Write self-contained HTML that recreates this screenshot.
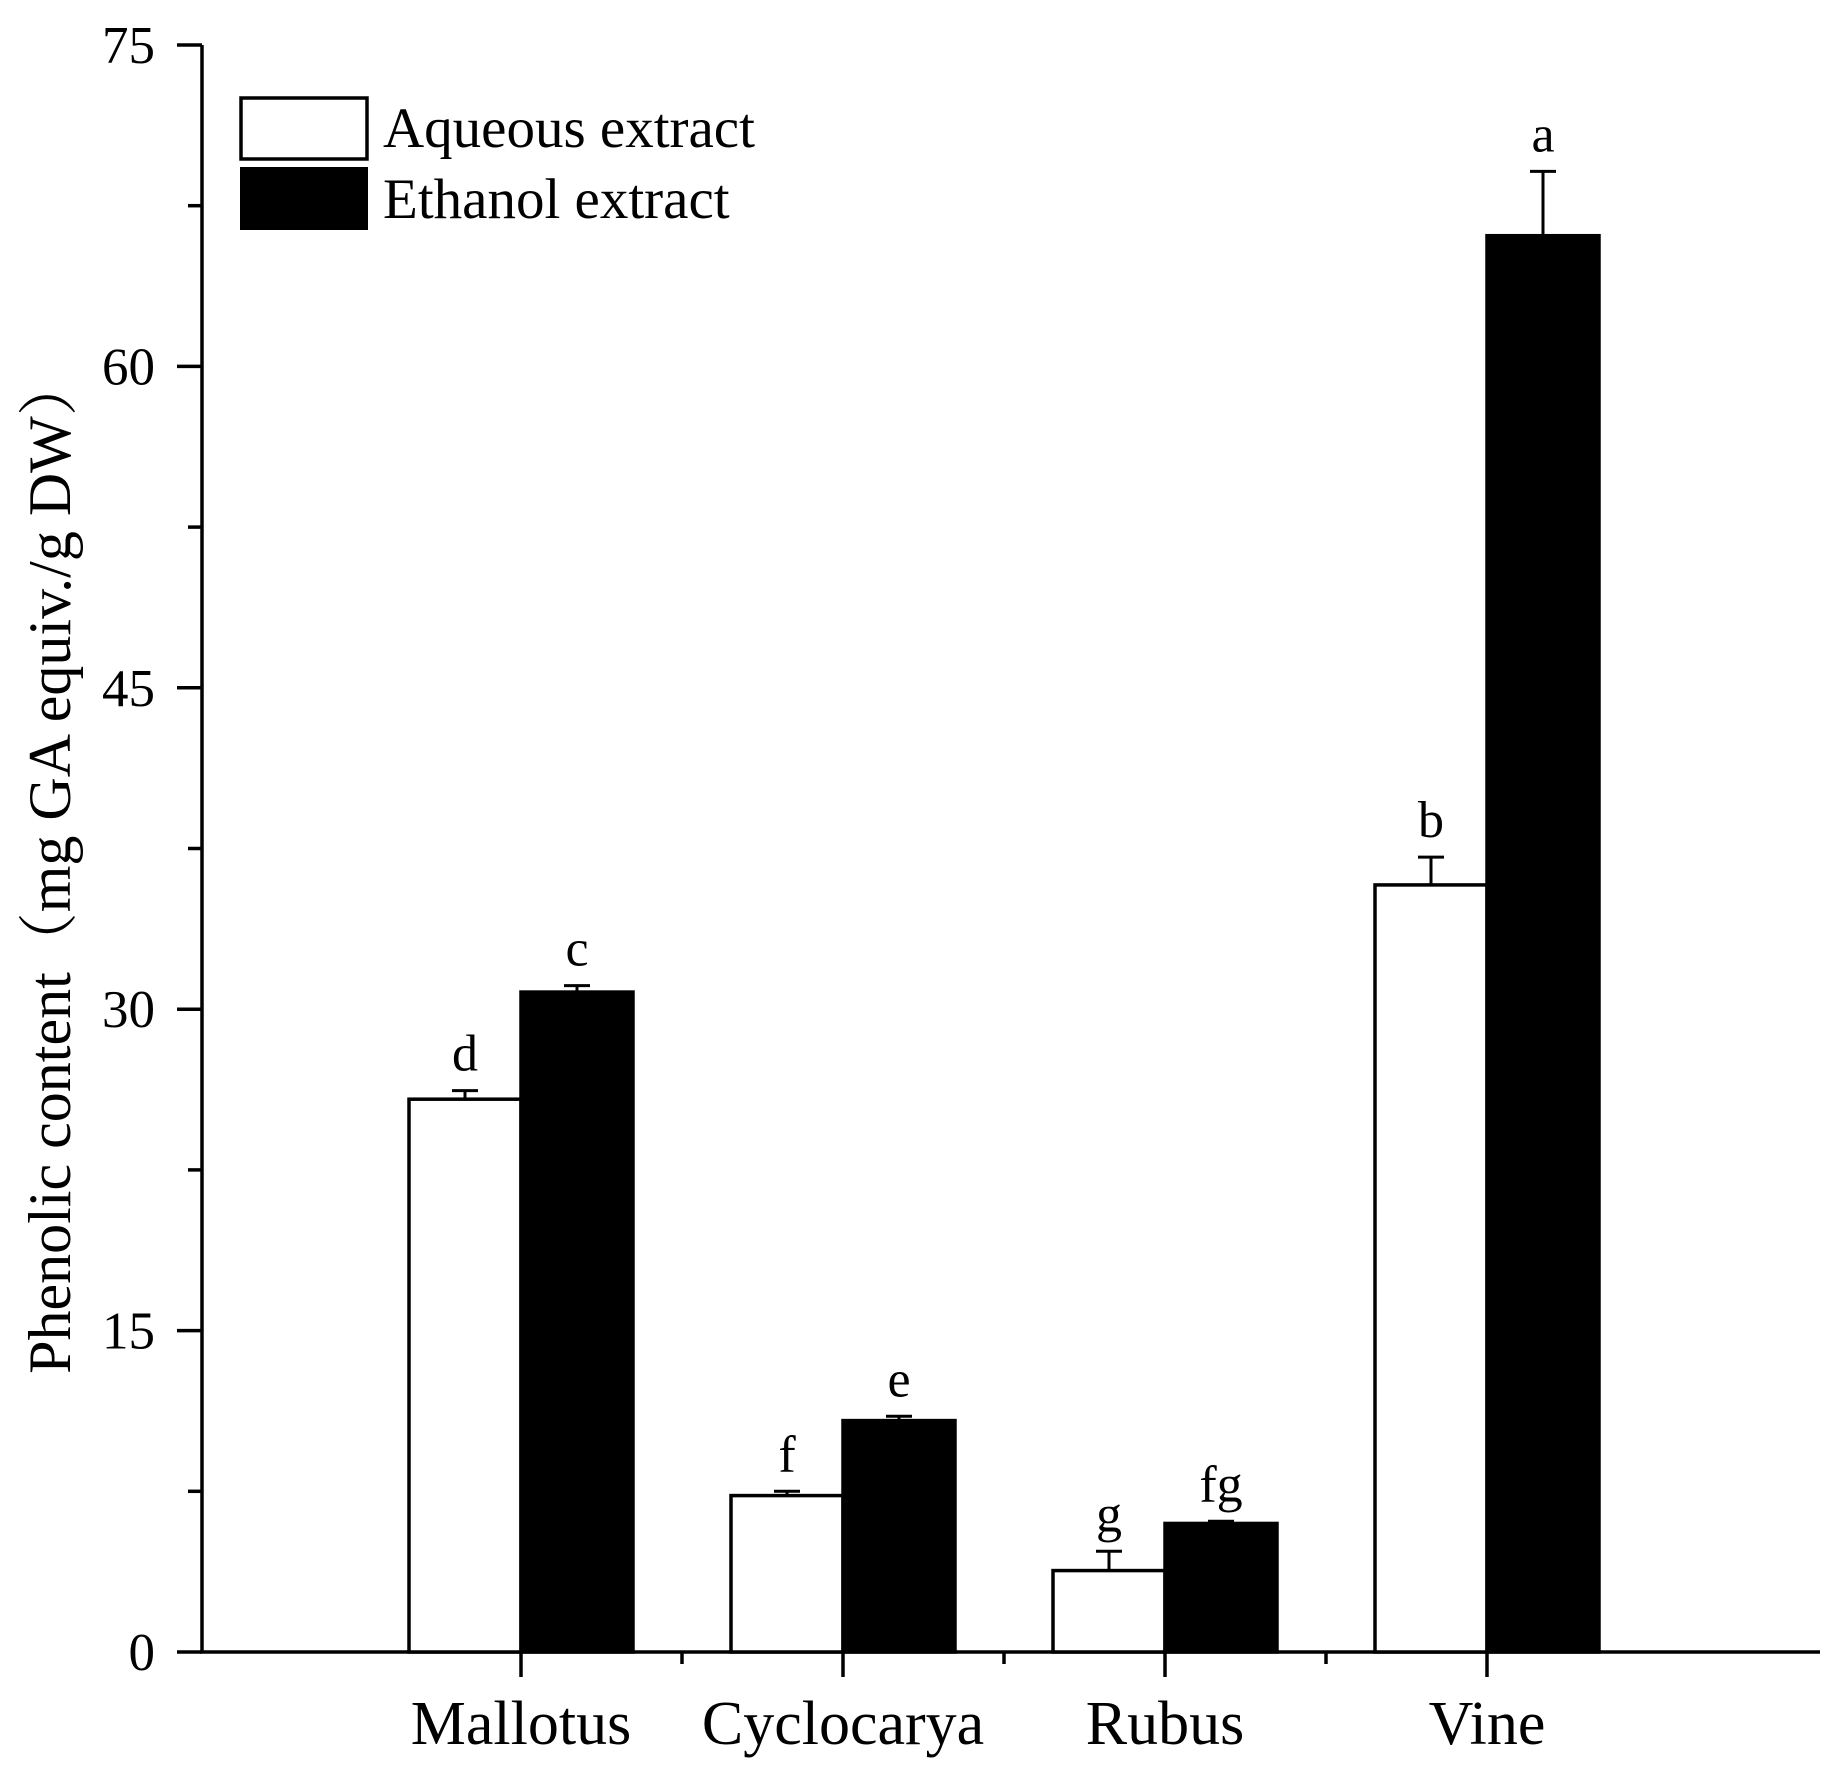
<!DOCTYPE html>
<html><head><meta charset="utf-8"><style>
html,body{margin:0;padding:0;background:#fff;}
svg{display:block;font-family:"Liberation Serif","Noto Serif CJK SC",serif;}
</style></head><body>
<svg id="chart" width="1835" height="1771" viewBox="0 0 1835 1771">
<g id="axes"></g><g id="bars"></g>
<g>
<rect x="241" y="98" width="126" height="61" fill="#fff" stroke="#000" stroke-width="3.5"/>
<text x="383" y="147" font-size="57">Aqueous extract</text>
<rect x="240" y="167" width="128" height="63" fill="#000"/>
<text x="383" y="218" font-size="57">Ethanol extract</text>
</g>
<text transform="translate(70,865) rotate(-90)" text-anchor="middle" font-size="60">Phenolic content（mg GA equiv./g DW）</text>
</svg>
<script>
const categories=["Mallotus","Cyclocarya","Rubus","Vine"];
const aqueous=[25.8,7.3,3.8,35.8];
const aqueousErr=[0.4,0.2,0.9,1.3];
const ethanol=[30.8,10.8,6.0,66.1];
const ethanolErr=[0.3,0.2,0.1,3.0];
const aqLetters=["d","f","g","b"];
const ethLetters=["c","e","fg","a"];
const yTicks=[0,15,30,45,60,75];
const NS="http://www.w3.org/2000/svg";
const X0=202,X1=1820,Y0=1652,Y75=45;
const y=v=>Y0-(v/75)*(Y0-Y75);
const cx=i=>521+i*322;
const BW=112;
function mk(tag,attrs,parent,txt){const e=document.createElementNS(NS,tag);for(const k in attrs)e.setAttribute(k,attrs[k]);if(txt!==undefined)e.textContent=txt;parent.appendChild(e);return e;}
const axes=document.getElementById('axes'),bars=document.getElementById('bars');
let e;
e=mk('line',{x1:X0,y1:Y0,x2:X0,y2:Y75,stroke:'#000','stroke-width':3.5},axes);


e=mk('line',{x1:X0-2,y1:Y0,x2:X1,y2:Y0,stroke:'#000','stroke-width':3.5},axes);


for(let v=0;v<=75;v+=7.5){const major=(v%15===0);
e=mk('line',{x1:X0-(major?25:14),y1:y(v),x2:X0,y2:y(v),stroke:'#000','stroke-width':3.5},axes);

}
yTicks.forEach(v=>{e=mk('text',{x:X0-47,y:y(v)+18,'text-anchor':'end','font-size':53},axes,String(v));

});
categories.forEach((c,i)=>{
e=mk('line',{x1:cx(i),y1:Y0,x2:cx(i),y2:Y0+25,stroke:'#000','stroke-width':3.5},axes);


if(i<3){e=mk('line',{x1:cx(i)+161,y1:Y0,x2:cx(i)+161,y2:Y0+12,stroke:'#000','stroke-width':3.5},axes);

}
e=mk('text',{x:cx(i),y:Y0+92,'text-anchor':'middle','font-size':62},axes,c);


const series=[[aqueous,aqueousErr,aqLetters,'#fff',-1,'aqueous'],[ethanol,ethanolErr,ethLetters,'#000',0,'ethanol']];
series.forEach(([vals,errs,lets,fill,off,nm])=>{
const bx=cx(i)+off*BW, top=y(vals[i]), et=y(vals[i]+errs[i]), mid=bx+BW/2;
e=mk('line',{x1:mid,y1:top,x2:mid,y2:et,stroke:'#000','stroke-width':3},bars);


e=mk('line',{x1:mid-13,y1:et,x2:mid+13,y2:et,stroke:'#000','stroke-width':3},bars);


e=mk('rect',{x:bx,y:top,width:BW,height:Y0-top,fill:fill,stroke:'#000','stroke-width':3.5},bars);


e=mk('text',{x:mid,y:et-20,'text-anchor':'middle','font-size':52},bars,lets[i]);


});
});
</script>
</body></html>
